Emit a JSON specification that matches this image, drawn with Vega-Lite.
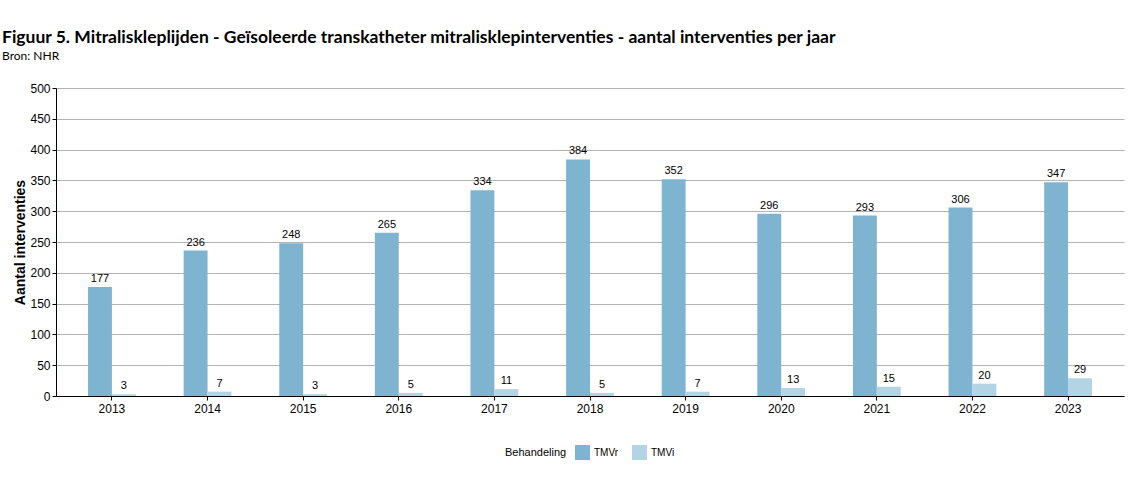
{
  "$schema": "https://vega.github.io/schema/vega-lite/v6.json",
  "width": 1068,
  "height": 308,
  "padding": {"left": 2, "top": 28, "right": 5, "bottom": 5},
  "background": "white",
  "title": {
    "text": "Figuur 5. Mitraliskleplijden - Geïsoleerde transkatheter mitralisklepinterventies - aantal interventies per jaar",
    "subtitle": "Bron: NHR",
    "anchor": "start",
    "frame": "group",
    "dx": -54,
    "font": "Lato",
    "fontSize": 17.5,
    "fontWeight": "bold",
    "color": "black",
    "subtitleFont": "Lato",
    "subtitleFontSize": 12,
    "subtitleColor": "black",
    "subtitlePadding": 5,
    "offset": 20
  },
  "data": {
    "values": [
      {"Jaar": "2013", "Behandeling": "TMVr", "Aantal": 177},
      {"Jaar": "2014", "Behandeling": "TMVr", "Aantal": 236},
      {"Jaar": "2015", "Behandeling": "TMVr", "Aantal": 248},
      {"Jaar": "2016", "Behandeling": "TMVr", "Aantal": 265},
      {"Jaar": "2017", "Behandeling": "TMVr", "Aantal": 334},
      {"Jaar": "2018", "Behandeling": "TMVr", "Aantal": 384},
      {"Jaar": "2019", "Behandeling": "TMVr", "Aantal": 352},
      {"Jaar": "2020", "Behandeling": "TMVr", "Aantal": 296},
      {"Jaar": "2021", "Behandeling": "TMVr", "Aantal": 293},
      {"Jaar": "2022", "Behandeling": "TMVr", "Aantal": 306},
      {"Jaar": "2023", "Behandeling": "TMVr", "Aantal": 347},
      {"Jaar": "2013", "Behandeling": "TMVi", "Aantal": 3},
      {"Jaar": "2014", "Behandeling": "TMVi", "Aantal": 7},
      {"Jaar": "2015", "Behandeling": "TMVi", "Aantal": 3},
      {"Jaar": "2016", "Behandeling": "TMVi", "Aantal": 5},
      {"Jaar": "2017", "Behandeling": "TMVi", "Aantal": 11},
      {"Jaar": "2018", "Behandeling": "TMVi", "Aantal": 5},
      {"Jaar": "2019", "Behandeling": "TMVi", "Aantal": 7},
      {"Jaar": "2020", "Behandeling": "TMVi", "Aantal": 13},
      {"Jaar": "2021", "Behandeling": "TMVi", "Aantal": 15},
      {"Jaar": "2022", "Behandeling": "TMVi", "Aantal": 20},
      {"Jaar": "2023", "Behandeling": "TMVi", "Aantal": 29}
    ]
  },
  "encoding": {
    "x": {
      "field": "Jaar",
      "type": "nominal",
      "scale": {"paddingInner": 0.5, "paddingOuter": 0.335},
      "axis": {
        "title": null,
        "labelAngle": 0,
        "labelFont": "Liberation Sans",
        "labelFontSize": 12,
        "labelColor": "black",
        "domainColor": "black",
        "tickColor": "black",
        "tickSize": 4,
        "labelPadding": 3,
        "grid": false
      }
    },
    "xOffset": {"field": "Behandeling", "type": "nominal", "sort": ["TMVr", "TMVi"], "scale": {"paddingInner": 0, "paddingOuter": 0}},
    "y": {
      "field": "Aantal",
      "type": "quantitative",
      "scale": {"domain": [0, 500], "nice": false},
      "axis": {
        "title": "Aantal interventies",
        "titleFont": "Liberation Sans",
        "titleFontSize": 14,
        "titleFontWeight": "bold",
        "titleColor": "black",
        "titlePadding": 2,
        "values": [0, 50, 100, 150, 200, 250, 300, 350, 400, 450, 500],
        "labelFont": "Liberation Sans",
        "labelFontSize": 12,
        "labelColor": "black",
        "domainColor": "black",
        "tickColor": "black",
        "tickSize": 4,
        "labelPadding": 2,
        "grid": true,
        "gridColor": "#b3b3b3",
        "gridWidth": 1
      }
    }
  },
  "layer": [
    {
      "mark": {"type": "bar"},
      "encoding": {
        "color": {
          "field": "Behandeling",
          "type": "nominal",
          "scale": {"domain": ["TMVr", "TMVi"], "range": ["#7fb4d0", "#b3d4e5"]},
          "legend": {
            "orient": "bottom",
            "direction": "horizontal",
            "title": "Behandeling",
            "titleOrient": "left",
            "titleFont": "Liberation Sans",
            "titleFontSize": 11,
            "titleFontWeight": "normal",
            "titleColor": "black",
            "titlePadding": 8,
            "labelFont": "Liberation Sans",
            "labelFontSize": 10,
            "labelColor": "black",
            "symbolType": "square",
            "symbolSize": 225,
            "symbolStrokeWidth": 0,
            "columnPadding": 13,
            "labelOffset": 4,
            "offset": 31
          }
        }
      }
    },
    {
      "mark": {"type": "text", "baseline": "bottom", "dy": -3, "font": "Liberation Sans", "fontSize": 11, "color": "black"},
      "encoding": {
        "text": {"field": "Aantal", "type": "quantitative"}
      }
    }
  ],
  "config": {
    "view": {"stroke": null},
    "legend": {"layout": {"bottom": {"anchor": "middle"}}}
  }
}
